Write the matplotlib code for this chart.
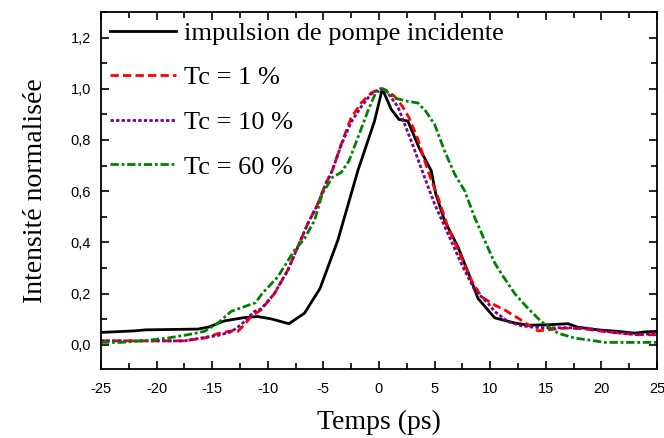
import matplotlib
matplotlib.use("Agg")
import matplotlib.pyplot as plt
from matplotlib.ticker import MultipleLocator, FuncFormatter

# incident pump pulse
t_pump = [-25, -24, -22, -21, -16.3, -15.3, -13.9, -12.1, -10.9, -9.7, -8.1,
          -6.7, -5.3, -3.7, -1.9, -0.4, 0.3, 1.1, 1.8, 2.6, 3.6, 4.7, 5.1,
          5.9, 7.1, 8.3, 8.9, 10.4, 12.2, 13.4, 15.2, 17.0, 17.9, 19.7, 21.5,
          23.0, 23.9, 25]
i_pump = [0.048, 0.05, 0.054, 0.058, 0.061, 0.069, 0.093, 0.106, 0.11, 0.101,
          0.082, 0.123, 0.22, 0.408, 0.68, 0.874, 1.0, 0.92, 0.88, 0.874, 0.77,
          0.68, 0.59, 0.485, 0.382, 0.252, 0.181, 0.105, 0.085, 0.076, 0.078,
          0.082, 0.068, 0.058, 0.052, 0.045, 0.05, 0.052]

# Tc = 1 %
t_tc1 = [-25, -17.5, -16.9, -15.7, -14.5, -13.3, -12.7, -12.1, -11.5, -10.6,
         -9.4, -8.2, -7.3, -6.4, -5.5, -4.8, -4.2, -3.4, -2.5, -1.6, -0.7,
         0.1, 0.6, 1.4, 2.1, 2.7, 3.5, 4.4, 5.3, 6.2, 7.4, 8.3, 9.2, 10.4,
         11.3, 12.5, 13.4, 14.3, 15.2, 16.7, 18.5, 19.7, 21.8, 23.3, 25]
i_tc1 = [0.015, 0.015, 0.019, 0.026, 0.043, 0.054, 0.052, 0.078, 0.11, 0.136,
         0.2, 0.291, 0.382, 0.473, 0.55, 0.628, 0.68, 0.783, 0.887, 0.945,
         0.984, 1.0, 0.995, 0.971, 0.932, 0.887, 0.803, 0.68, 0.576, 0.459,
         0.343, 0.252, 0.188, 0.155, 0.136, 0.104, 0.078, 0.054, 0.058, 0.065,
         0.062, 0.054, 0.045, 0.039, 0.039]

# Tc = 10 %
t_tc10 = [-25, -17.5, -16.0, -14.5, -13.3, -12.4, -11.2, -10.6, -9.4, -8.2,
          -7.3, -6.4, -5.5, -4.8, -4.2, -3.4, -2.5, -1.6, -0.7, 0.1, 0.6, 1.7,
          2.9, 4.1, 5.0, 6.2, 7.4, 8.6, 9.8, 10.4, 11.6, 12.8, 14.0, 15.2,
          18.5, 21.0, 23.3, 25]
i_tc10 = [0.015, 0.015, 0.026, 0.036, 0.05, 0.078, 0.13, 0.14, 0.2, 0.291,
          0.382, 0.473, 0.55, 0.628, 0.68, 0.78, 0.87, 0.93, 0.98, 1.0, 0.995,
          0.93, 0.796, 0.654, 0.55, 0.434, 0.317, 0.214, 0.162, 0.13, 0.09,
          0.074, 0.068, 0.066, 0.066, 0.048, 0.039, 0.045]

# Tc = 60 %
t_tc60 = [-25, -23.2, -20.8, -19.0, -17.2, -15.7, -14.5, -13.3, -12.1, -11.1,
          -10.5, -9.1, -7.6, -6.7, -5.8, -5.1, -4.2, -3.4, -2.7, -1.9, -1.0,
          -0.3, 0.4, 1.4, 2.6, 3.5, 4.2, 5.0, 5.9, 6.8, 7.7, 8.6, 9.5, 10.4,
          11.0, 12.2, 13.4, 14.6, 16.1, 17.6, 19.1, 20.3, 25]
i_tc60 = [0.009, 0.009, 0.017, 0.026, 0.039, 0.052, 0.084, 0.13, 0.149, 0.164,
          0.2, 0.265, 0.369, 0.414, 0.485, 0.589, 0.654, 0.673, 0.718, 0.809,
          0.913, 0.984, 1.0, 0.964, 0.951, 0.945, 0.913, 0.861, 0.757, 0.667,
          0.602, 0.498, 0.408, 0.32, 0.278, 0.2, 0.142, 0.09, 0.045, 0.026,
          0.017, 0.009, 0.009]

labels = ["impulsion de pompe incidente", "Tc = 1 %", "Tc = 10 %", "Tc = 60 %"]
x_ticks = [-25, -20, -15, -10, -5, 0, 5, 10, 15, 20, 25]
y_ticks = [0.0, 0.2, 0.4, 0.6, 0.8, 1.0, 1.2]

serif = ["Liberation Serif", "DejaVu Serif"]
plt.rcParams["font.family"] = ["Liberation Sans", "DejaVu Sans"]
plt.rcParams["axes.unicode_minus"] = False

fig = plt.figure(figsize=(6.64, 4.38), dpi=100)
ax = fig.add_axes([0.152, 0.1575, 0.8375, 0.815])

ax.plot(t_pump, i_pump, color="black", lw=2, label=labels[0])
ax.plot(t_tc1, i_tc1, color="red", lw=2, ls=(0, (3, 1.5)), label=labels[1])
ax.plot(t_tc10, i_tc10, color="purple", lw=2, ls=(0, (1.2, 0.8)), label=labels[2])
ax.plot(t_tc60, i_tc60, color="green", lw=2, ls=(0, (3, 1, 1, 1)), label=labels[3])

ax.set_xlim(-25, 25)
ax.set_ylim(-0.095, 1.3)
ax.set_xticks(x_ticks)
ax.set_yticks(y_ticks)
ax.xaxis.set_minor_locator(MultipleLocator(2.5))
ax.yaxis.set_minor_locator(MultipleLocator(0.1))
ax.yaxis.set_major_formatter(FuncFormatter(lambda v, p: f"{v:.1f}".replace(".", ",")))
ax.tick_params(which="both", direction="in", top=True, right=True, labelsize=10.5, width=1.2)
ax.tick_params(which="major", length=6)
ax.tick_params(which="minor", length=4)
ax.tick_params(axis="x", pad=9)
ax.tick_params(axis="y", pad=7)
for s in ax.spines.values():
    s.set_linewidth(1.3)

ax.set_xlabel("Temps (ps)", family=serif, fontsize=20, labelpad=10)
ax.set_ylabel("Intensité normalisée", family=serif, fontsize=20, labelpad=16)

ax.legend(loc="upper left", frameon=False, prop={"family": serif, "size": 19},
          handlelength=2.5, handletextpad=0.3, labelspacing=0.8,
          borderaxespad=0.2, borderpad=0.15)

fig.savefig("out.png", dpi=100)
